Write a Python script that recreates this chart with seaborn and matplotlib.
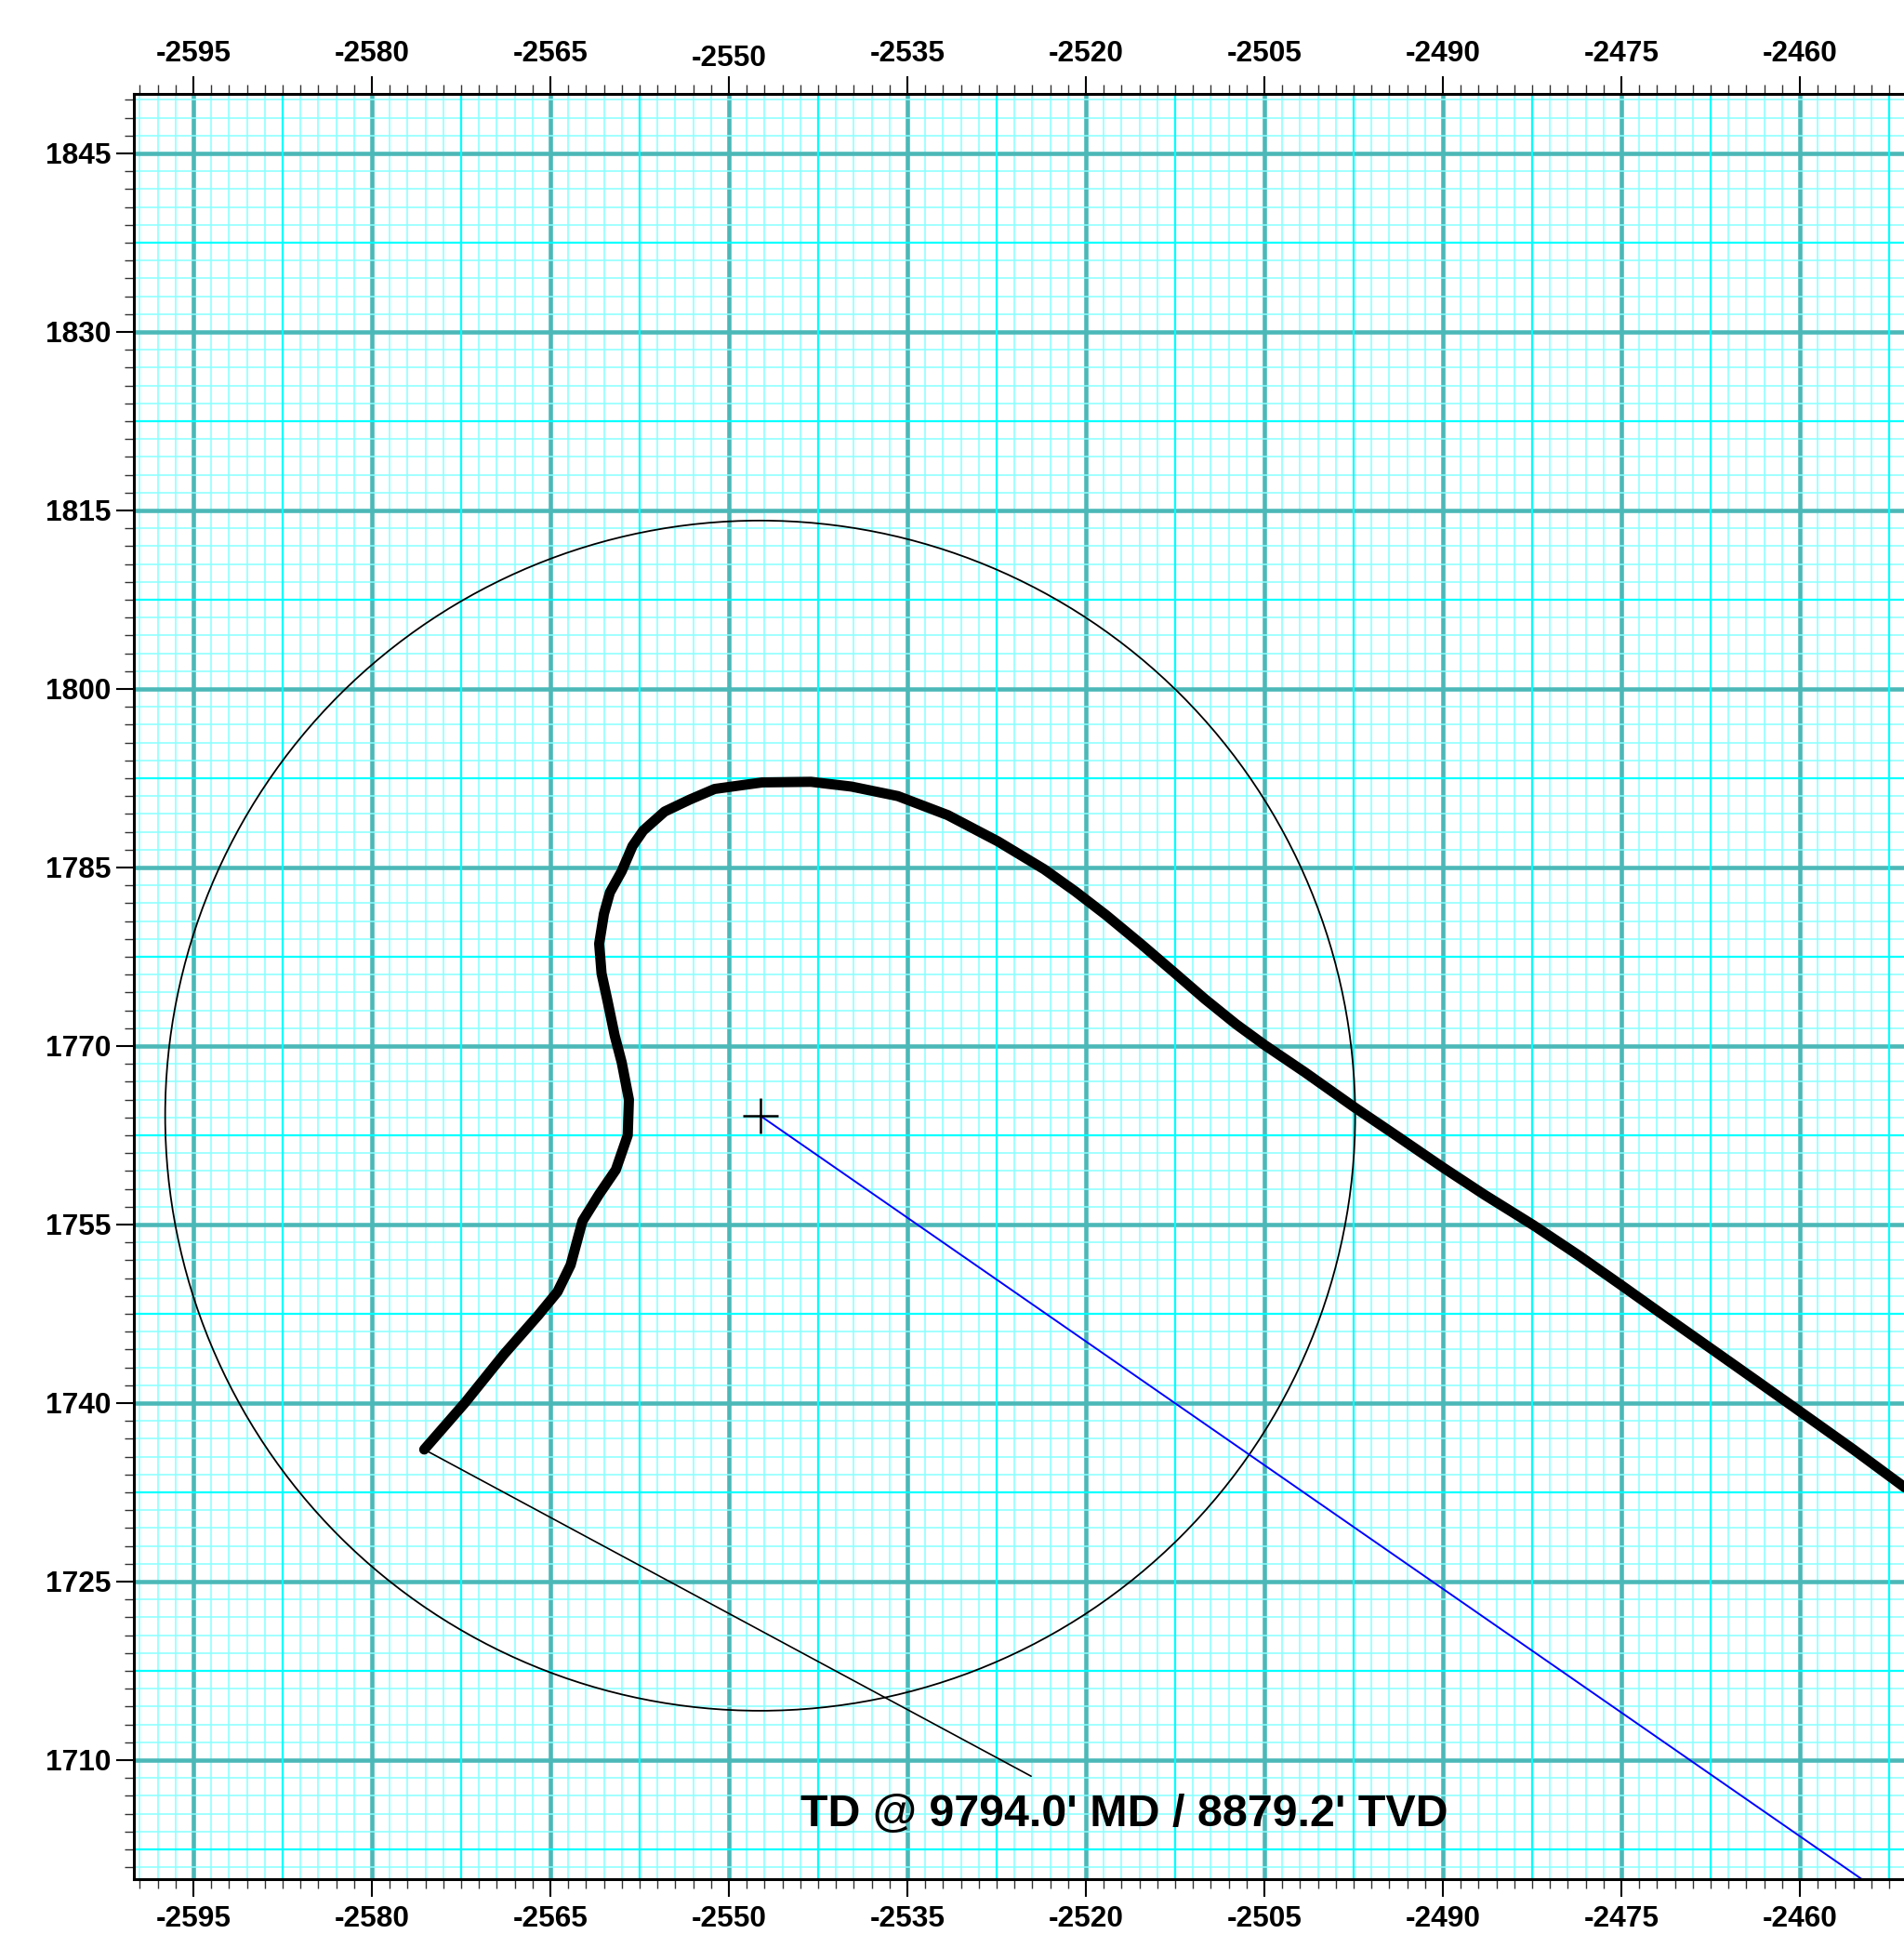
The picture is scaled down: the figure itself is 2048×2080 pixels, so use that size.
import numpy as np
import matplotlib
matplotlib.use("Agg")
import matplotlib.pyplot as plt
import matplotlib.transforms as mtransforms
from matplotlib.ticker import MultipleLocator, FuncFormatter
from matplotlib.patches import Circle
import seaborn as sns

# Well path in plan view (east / north, ft), from the right edge to TD
path_east = [-2449.0, -2451.3, -2455.5, -2460.0, -2463.6, -2467.5, -2471.2, -2475.0,
             -2478.5, -2482.4, -2486.5, -2490.0, -2493.8, -2497.5, -2501.6, -2505.0,
             -2507.4, -2510.0, -2512.6, -2515.4, -2518.3, -2520.9, -2523.5, -2527.4,
             -2531.6, -2535.8, -2539.7, -2543.1, -2547.2, -2551.2, -2553.3, -2555.4,
             -2557.2, -2558.1, -2559.0, -2560.0, -2560.5, -2560.9, -2560.7, -2560.2,
             -2559.6, -2559.0, -2558.4, -2558.5, -2559.5, -2560.9, -2562.3, -2563.3,
             -2564.4, -2566.0, -2568.9, -2572.2, -2575.6]
path_north = [1731.3, 1733.0, 1736.1, 1739.3, 1741.85, 1744.6, 1747.2, 1749.9,
              1752.35, 1754.95, 1757.5, 1759.8, 1762.4, 1764.9, 1767.8, 1770.1,
              1771.85, 1773.95, 1776.2, 1778.6, 1781.0, 1783.0, 1784.85, 1787.2,
              1789.4, 1791.0, 1791.8, 1792.2, 1792.15, 1791.6, 1790.7, 1789.7,
              1788.1, 1786.8, 1784.7, 1782.9, 1781.1, 1778.6, 1776.1, 1773.8,
              1770.9, 1768.6, 1765.5, 1762.5, 1759.6, 1757.55, 1755.3, 1751.6,
              1749.35, 1747.4, 1744.1, 1740.0, 1736.1]

# target and its tolerance circle
target_east = -2547.37
target_north = 1764.15
target_radius = 50.0

# blue direction line from the target
dir_east = [-2547.37, -2454.8]
dir_north = [1764.15, 1700.0]

# TD leader line and label
leader_east = [-2575.6, -2524.6]
leader_north = [1736.1, 1708.65]
td_label = "TD @ 9794.0' MD / 8879.2' TVD"
td_east = -2544.0
td_north = 1704.45

x_range = (-2600, -2450)
y_range = (1700, 1850)

sns.set_style("white")
plt.rcParams['font.family'] = ['Liberation Sans', 'DejaVu Sans']
plt.rcParams['font.weight'] = 'bold'
plt.rcParams['axes.unicode_minus'] = False
plt.rcParams['text.color'] = 'black'
plt.rcParams['xtick.color'] = 'black'
plt.rcParams['ytick.color'] = 'black'
plt.rcParams['xtick.labelcolor'] = 'black'
plt.rcParams['ytick.labelcolor'] = 'black'

fig = plt.figure(figsize=(20.48, 20.80), dpi=100)
ax = fig.add_axes([144 / 2048, 59 / 2080, 1920 / 2048, 1920 / 2080])
ax.set_xlim(*x_range)
ax.set_ylim(*y_range)

# graph paper grid
major_col = '#4CB8B8'
mid_col = '#00FFFF'
minor_col = '#88FFFF'
for axis in (ax.xaxis, ax.yaxis):
    axis.set_major_locator(MultipleLocator(15))
    axis.set_minor_locator(MultipleLocator(1.5))
    axis.set_major_formatter(FuncFormatter(lambda v, p: f"{v:.0f}"))
ax.set_axisbelow(True)
ax.grid(which='minor', color=minor_col, lw=1.1)
ax.grid(which='major', color=major_col, lw=3.3)

mid = MultipleLocator(7.5)
for v in mid.tick_values(*x_range):
    if v % 15 != 0:
        ax.axvline(v, color=mid_col, lw=1.6, zorder=0.55)
for v in mid.tick_values(*y_range):
    if v % 15 != 0:
        ax.axhline(v, color=mid_col, lw=1.6, zorder=0.55)
ax.set_xlim(*x_range)
ax.set_ylim(*y_range)

# circle, direction line and leader
ax.add_patch(Circle((target_east, target_north), target_radius, fill=False,
                    ec='black', lw=1.3, zorder=2))
ax.plot(dir_east, dir_north, color='#0000FF', lw=1.4, zorder=2)
ax.plot(leader_east, leader_north, color='black', lw=1.2, zorder=2)
ax.plot([target_east], [target_north], marker='+', ms=27, mew=1.8,
        color='black', zorder=3)

# well path
sns.lineplot(x=path_east, y=path_north, sort=False, estimator=None, color='black',
             lw=7.9, solid_capstyle='round', solid_joinstyle='round', ax=ax, zorder=4)

ax.text(td_east, td_north, td_label, fontsize=34.8, fontweight='bold', color='black',
        ha='left', va='baseline', zorder=5)

# ticks and frame
ax.tick_params(axis='x', which='both', top=True, bottom=True, labeltop=True,
               labelbottom=True, direction='out')
ax.tick_params(axis='y', which='both', left=True, right=False, direction='out')
ax.tick_params(which='major', length=13.7, width=1.5, color='black',
               labelcolor='black', labelsize=22.8)
ax.tick_params(which='minor', length=7, width=1.0, color='#333333')
ax.tick_params(axis='x', pad=6.5)
ax.tick_params(axis='y', pad=4)
for lab in ax.get_xticklabels() + ax.get_yticklabels():
    lab.set_fontweight('bold')
for side in ('left', 'top', 'bottom'):
    ax.spines[side].set_color('black')
    ax.spines[side].set_linewidth(2.2)
ax.spines['right'].set_visible(False)
ax.set_xlabel('')
ax.set_ylabel('')

fig.canvas.draw()
# the -2550 label on top sits a bit lower in the original
for tick in ax.xaxis.get_major_ticks():
    if abs(tick.get_loc() + 2550) < 1e-6:
        tick.label2.set_transform(tick.label2.get_transform() +
                                  mtransforms.ScaledTranslation(0, -5 / 100, fig.dpi_scale_trans))

fig.savefig('out.png', dpi=100)
